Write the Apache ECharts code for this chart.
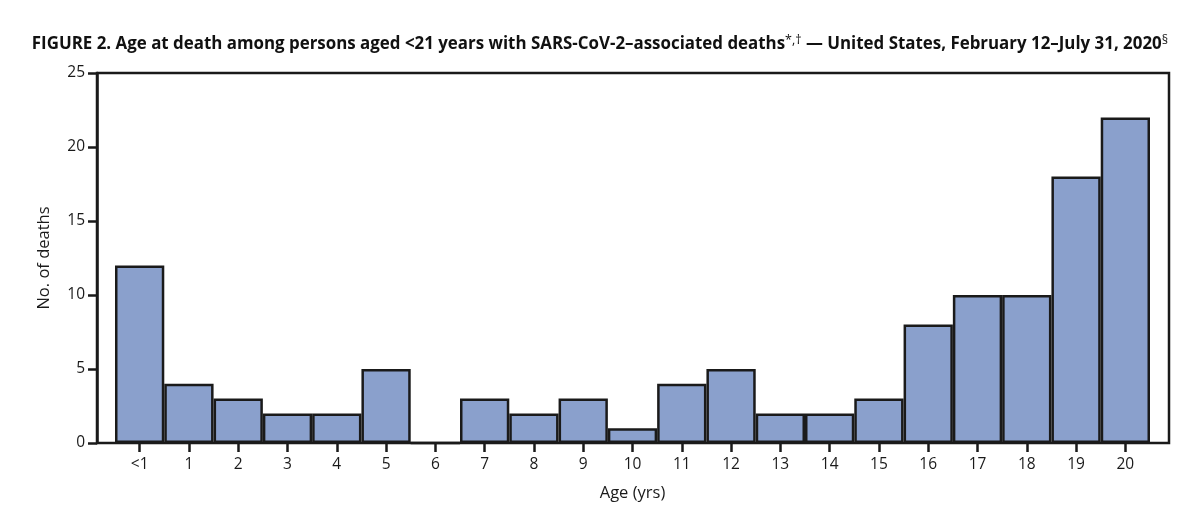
<!DOCTYPE html>
<html><head><meta charset="utf-8">
<script src="https://cdn.jsdelivr.net/npm/echarts@6/dist/echarts.min.js"></script>
<style>html,body{margin:0;padding:0;background:#fff}#c{width:1200px;height:509px}</style>
</head><body><div id="c"></div>
<script>
const titleText = 'FIGURE 2. Age at death among persons aged <21 years with SARS-CoV-2–associated deaths{sup|*,†} — United States, February 12–July 31, 2020{sup|§}';
const ageCategories = ['<1','1','2','3','4','5','6','7','8','9','10','11','12','13','14','15','16','17','18','19','20'];
const deaths = [12,4,3,2,2,5,0,3,2,3,1,4,5,2,2,3,8,10,10,18,22];
const yTicks = {min:0, max:25, interval:5};

const font = 'Open Sans';
const chart = echarts.init(document.getElementById('c'), null, {renderer:'canvas'});
chart.setOption({
  animation:false,
  backgroundColor:'#fff',
  title:{text:titleText, left:'center', top:29,
    textStyle:{fontFamily:font, fontWeight:'bold', fontSize:16.9, color:'#111',
      rich:{sup:{fontFamily:font, fontWeight:'normal', fontSize:12.5, color:'#111', verticalAlign:'top', padding:[0,0,7,0]}}}},
  grid:[
    {left:97, right:31, top:73, bottom:66, show:true, borderColor:'#1a1a1a', borderWidth:2.5, backgroundColor:'transparent'},
    {left:115, right:50, top:73, bottom:66}
  ],
  xAxis:[
    {gridIndex:0, type:'value', min:0, max:1, show:false},
    {gridIndex:1, type:'category', data:ageCategories,
      name:'Age (yrs)', nameLocation:'middle', nameGap:42,
      nameTextStyle:{fontFamily:font, fontSize:16.5, color:'#1a1a1a'},
      axisLine:{show:false},
      axisTick:{show:true, alignWithLabel:true, length:9, lineStyle:{color:'#1a1a1a', width:2.5}},
      axisLabel:{fontFamily:font, fontSize:15.5, color:'#1a1a1a', margin:14}}
  ],
  yAxis:[
    {gridIndex:0, type:'value', min:yTicks.min, max:yTicks.max, interval:yTicks.interval,
      name:'No. of deaths', nameLocation:'middle', nameGap:44,
      nameTextStyle:{fontFamily:font, fontSize:16.5, color:'#1a1a1a'},
      axisLine:{show:true, lineStyle:{color:'#1a1a1a', width:2.5}},
      axisTick:{show:true, length:9, lineStyle:{color:'#1a1a1a', width:2.5}},
      axisLabel:{fontFamily:font, fontSize:15.5, color:'#1a1a1a', margin:12},
      splitLine:{show:false}},
    {gridIndex:1, type:'value', min:yTicks.min, max:yTicks.max, interval:yTicks.interval, show:false, splitLine:{show:false}}
  ],
  series:[{
    type:'bar', xAxisIndex:1, yAxisIndex:1, data:deaths,
    barCategoryGap:'0%',
    itemStyle:{color:'#8aa0cc', borderColor:'#1a1a1a', borderWidth:2.5}
  }]
});
</script></body></html>
